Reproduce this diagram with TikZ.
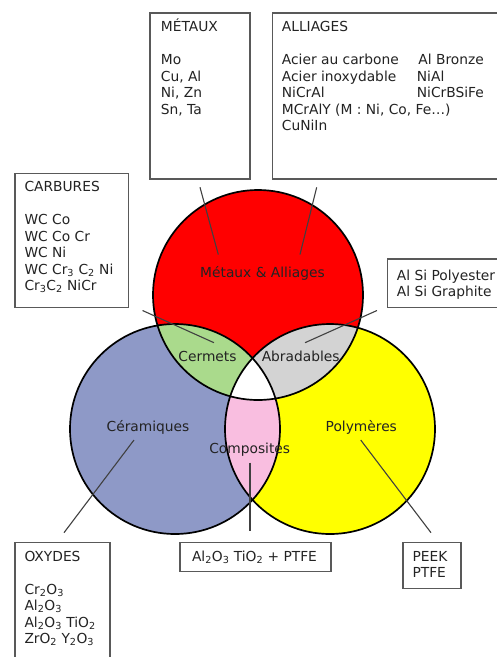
\documentclass[tikz,border=0pt]{standalone}
\usepackage{fontspec}
\setmainfont{DejaVu Sans}
\definecolor{cblue}{RGB}{142,153,199}
\definecolor{cyellow}{RGB}{255,255,0}
\definecolor{cred}{RGB}{255,0,0}
\definecolor{cgreen}{RGB}{170,218,140}
\definecolor{cgray}{RGB}{211,211,211}
\definecolor{cpink}{RGB}{249,190,224}
\definecolor{ctext}{RGB}{35,35,35}
\begin{document}
\begin{tikzpicture}[x=1pt,y=-1pt,
  txt/.style={anchor=base west, inner sep=0pt, text=ctext, font=\fontsize{13.8}{16.5}\selectfont},
  lbl/.style={anchor=base, inner sep=0pt, text=ctext, font=\fontsize{13.8}{16.5}\selectfont},
  box/.style={draw=black!65, line width=1.5pt, fill=white, anchor=north west, inner sep=0pt},
  conn/.style={draw=black!75, line width=1.1pt},
  ring/.style={draw=black, line width=1.7pt}]
\useasboundingbox (0,0) rectangle (497,657);
\clip (0,0) rectangle (497,657);
\fill[white] (0,0) rectangle (497,657);

% circles (fills)
\fill[cblue] (175,429) circle[radius=105pt];
\fill[cyellow] (330,429) circle[radius=105pt];
\fill[cred] (258,295) circle[radius=105pt];
\begin{scope}
  \clip (258,295) circle[radius=105pt];
  \fill[cgreen] (175,429) circle[radius=105pt];
  \fill[cgray] (330,429) circle[radius=105pt];
\end{scope}
\begin{scope}
  \clip (175,429) circle[radius=105pt];
  \fill[cpink] (330,429) circle[radius=105pt];
  \clip (330,429) circle[radius=105pt];
  \fill[white] (258,295) circle[radius=105pt];
\end{scope}
\draw[ring] (175,429) circle[radius=105pt];
\draw[ring] (330,429) circle[radius=105pt];
\draw[ring] (258,295) circle[radius=105pt];

% circle labels
\node[lbl] (lmet) at (262.5,277.7) {Métaux \& Alliages};
\node[lbl] (lcer) at (207.5,361) {Cermets};
\node[lbl] (labr) at (300.7,361) {Abradables};
\node[lbl] (lcera) at (148,431.7) {Céramiques};
\node[lbl] (lpol) at (361.3,431.7) {Polymères};
\node[lbl] (lcomp) at (249.7,453.3) {Composites};

% boxes
\node[box, minimum width=100pt, minimum height=166pt] (metaux) at (149,12) {};
\node[box, minimum width=243pt, minimum height=166pt] (alliages) at (271.7,12) {};
\node[box, minimum width=113.4pt, minimum height=134pt] (carbures) at (14.3,172.7) {};
\node[box, minimum width=118pt, minimum height=48.4pt] (alsi) at (386.7,258.3) {};
\node[box, minimum width=94.7pt, minimum height=128pt] (oxydes) at (14.3,541.7) {};
\node[box, minimum width=151pt, minimum height=29pt] (ptfe) at (179,541.7) {};
\node[box, minimum width=57.7pt, minimum height=46pt] (peek) at (402.3,541.7) {};

% box texts
\node[txt] (metauxT) at (160.7,31.7) {\begin{tabular}[t]{@{}l@{}}MÉTAUX\\[16.5pt] Mo\\ Cu, Al\\ Ni, Zn\\ Sn, Ta\end{tabular}};
\node[txt] (alliagesT) at (281.7,31.7) {\begin{tabular}[t]{@{}l@{}}ALLIAGES\\[16.5pt]
  \makebox[136.5pt][l]{Acier au carbone}Al Bronze\\
  \makebox[135pt][l]{Acier inoxydable}NiAl\\
  \makebox[135pt][l]{NiCrAl}NiCrBSiFe\\
  MCrAlY (M : Ni, Co, Fe…)\\
  CuNiIn\end{tabular}};
\node[txt] (carburesT) at (24.3,191.7) {\begin{tabular}[t]{@{}l@{}}CARBURES\\[16.5pt] WC Co\\ WC Co Cr\\ WC Ni\\ WC Cr\textsubscript{3} C\textsubscript{2} Ni\\ Cr\textsubscript{3}C\textsubscript{2} NiCr\end{tabular}};
\node[txt] (alsiT) at (396.7,280) {\begin{tabular}[t]{@{}l@{}}Al Si Polyester\\ Al Si Graphite\end{tabular}};
\node[txt] (oxydesT) at (24.3,561) {\begin{tabular}[t]{@{}l@{}}OXYDES\\[16.5pt] Cr\textsubscript{2}O\textsubscript{3}\\ Al\textsubscript{2}O\textsubscript{3}\\ Al\textsubscript{2}O\textsubscript{3} TiO\textsubscript{2}\\ ZrO\textsubscript{2} Y\textsubscript{2}O\textsubscript{3}\end{tabular}};
\node[lbl] (ptfeT) at (254.5,561.5) {Al\textsubscript{2}O\textsubscript{3} TiO\textsubscript{2} + PTFE};
\node[txt] (peekT) at (412.3,561) {\begin{tabular}[t]{@{}l@{}}PEEK\\ PTFE\end{tabular}};

% connector ends
\coordinate (m1) at (200,187.3);   \coordinate (m2) at (218.3,254.5);
\coordinate (a1) at (316.7,187.3); \coordinate (a2) at (300,254.5);
\coordinate (c1) at (142.5,310.5); \coordinate (c2) at (214,342.7);
\coordinate (s1) at (377,310.5);   \coordinate (s2) at (305,342.7);
\coordinate (o1) at (134,440);     \coordinate (o2) at (64,532.7);
\coordinate (p1) at (360.7,440);   \coordinate (p2) at (431,532.7);
\coordinate (k1) at (250,462.7);   \coordinate (k2) at (250,531);

\draw[conn] (m1) -- (m2);
\draw[conn] (a1) -- (a2);
\draw[conn] (c1) -- (c2);
\draw[conn] (s1) -- (s2);
\draw[conn] (o1) -- (o2);
\draw[conn] (p1) -- (p2);
\draw[conn] (k1) -- (k2);
\end{tikzpicture}
\end{document}
